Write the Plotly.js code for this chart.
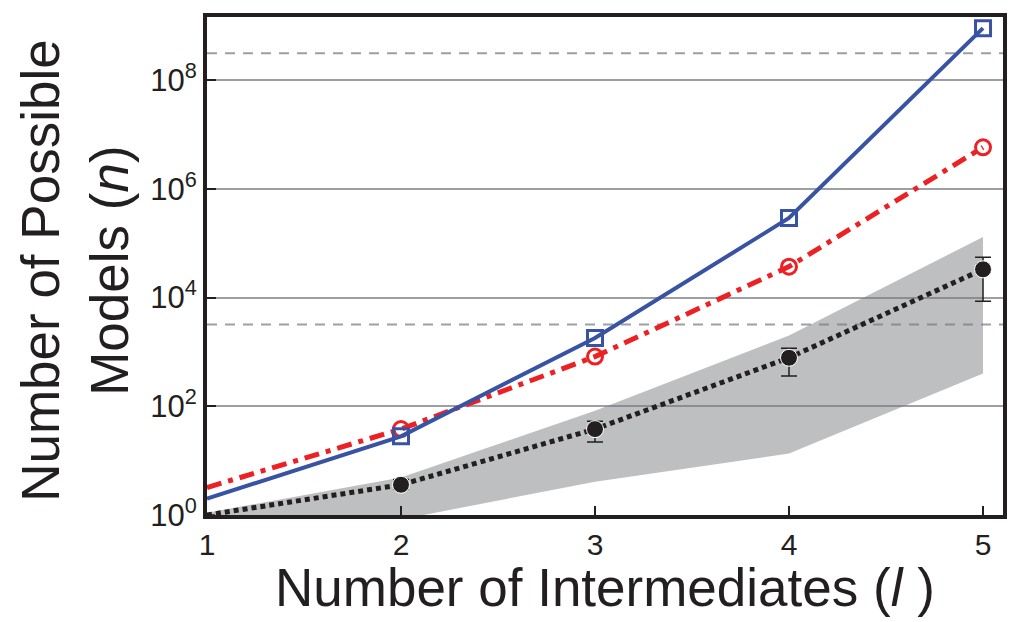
<!DOCTYPE html>
<html>
<head>
<meta charset="utf-8">
<script src="https://cdn.plot.ly/plotly-3.0.1.min.js"></script>
<style>
  html, body { margin: 0; padding: 0; background: #fff; }
  #chart { width: 1024px; height: 622px; }
</style>
</head>
<body>
<div id="chart"></div>
<script>
// number of intermediates (l)
var intermediates = [1, 2, 3, 4, 5];

// upper curve (blue squares) and middle curve (red circles)
var modelsSquare = [2.0, 28, 1800, 2.9e5, 9.0e8];
var modelsCircle = [3.2, 38, 820, 3.7e4, 5.8e6];

// sampled counts (black dots) with error bar ends
var modelsSampled = [1.0, 3.6, 38, 780, 3.3e4];
var sampledHigh = [1.0, 4.5, 53, 1170, 5.5e4];
var sampledLow = [1.0, 3.0, 22, 360, 8500];

// grey range
var rangeUpper = [1.1, 4.9, 83, 2000, 1.3e5];
var rangeLower = [0.3, 0.83, 4.1, 13.5, 400];

// dashed reference levels
var referenceLevels = [3.1e8, 3200];

var yTickVals = [1, 1e2, 1e4, 1e6, 1e8];
var yTickText = ['10<sup>0</sup>', '10<sup>2</sup>', '10<sup>4</sup>', '10<sup>6</sup>', '10<sup>8</sup>'];

var errPlus = modelsSampled.map(function (v, i) { return sampledHigh[i] - v; });
var errMinus = modelsSampled.map(function (v, i) { return v - sampledLow[i]; });
// no marker on the l = 1 starting point
function sizes(s) { return intermediates.map(function (l) { return l === 1 ? 0 : s; }); }

var traces = [
  {
    x: intermediates.concat(intermediates.slice().reverse()),
    y: rangeUpper.concat(rangeLower.slice().reverse()),
    type: 'scatter', mode: 'lines',
    fill: 'toself', fillcolor: 'rgba(120,122,126,0.48)',
    line: { width: 0 },
    hoverinfo: 'skip'
  },
  {
    x: intermediates, y: modelsSampled,
    type: 'scatter', mode: 'lines+markers',
    line: { color: '#231f20', width: 5, dash: '5px,4px' },
    marker: { color: '#231f20', size: sizes(17), opacity: 1 },
    error_y: { type: 'data', symmetric: false, array: errPlus, arrayminus: errMinus,
               color: '#231f20', thickness: 1.5, width: 8 }
  },
  {
    x: intermediates, y: modelsCircle,
    type: 'scatter', mode: 'lines+markers',
    line: { color: '#ed2024', width: 5, dash: '15px,7px,5px,7px' },
    marker: { symbol: 'circle-open', color: '#ed2024', size: sizes(15), opacity: 1,
              line: { width: 3, color: '#ed2024' } }
  },
  {
    x: intermediates, y: modelsSquare,
    type: 'scatter', mode: 'lines+markers',
    line: { color: '#3953a4', width: 4 },
    marker: { symbol: 'square-open', color: '#3953a4', size: sizes(15), opacity: 1,
              line: { width: 3, color: '#3953a4' } }
  }
];

var shapes = referenceLevels.map(function (v) {
  return { type: 'line', xref: 'paper', x0: 0, x1: 1, yref: 'y', y0: v, y1: v,
           layer: 'below', line: { color: '#9d9fa2', width: 2, dash: '10px,8px' } };
});

var layout = {
  width: 1024, height: 622,
  margin: { l: 207, r: 21, t: 17, b: 107 },
  paper_bgcolor: '#fff', plot_bgcolor: '#fff',
  showlegend: false,
  font: { family: 'Liberation Sans, Arial, sans-serif', color: '#231f20' },
  xaxis: {
    range: [1, 5.103],
    tickvals: intermediates,
    ticks: 'inside', ticklen: 9, tickwidth: 2, tickcolor: '#231f20',
    tickfont: { size: 30 },
    showgrid: false, zeroline: false,
    showline: true, mirror: true, linecolor: '#231f20', linewidth: 4
  },
  yaxis: {
    type: 'log',
    range: [0, 9.16],
    tickvals: yTickVals, ticktext: yTickText,
    ticks: 'inside', ticklen: 9, tickwidth: 2, tickcolor: '#231f20',
    tickfont: { size: 31 },
    showgrid: true, gridcolor: '#9d9fa2', gridwidth: 2,
    zeroline: false,
    showline: true, mirror: true, linecolor: '#231f20', linewidth: 4
  },
  shapes: shapes,
  annotations: [
    {
      text: 'Number of Possible<br>Models (<i>n</i>)',
      xref: 'paper', yref: 'paper', x: -0.166, y: 0.49,
      xanchor: 'center', yanchor: 'middle',
      textangle: -90, showarrow: false,
      font: { size: 53, color: '#231f20' }
    },
    {
      text: 'Number of Intermediates (<i>l</i> )',
      xref: 'paper', yref: 'paper', x: 0.5, y: -0.146,
      xanchor: 'center', yanchor: 'middle',
      showarrow: false,
      font: { size: 53, color: '#231f20' }
    }
  ]
};

Plotly.newPlot('chart', traces, layout, { displayModeBar: false, staticPlot: true });
</script>
</body>
</html>
